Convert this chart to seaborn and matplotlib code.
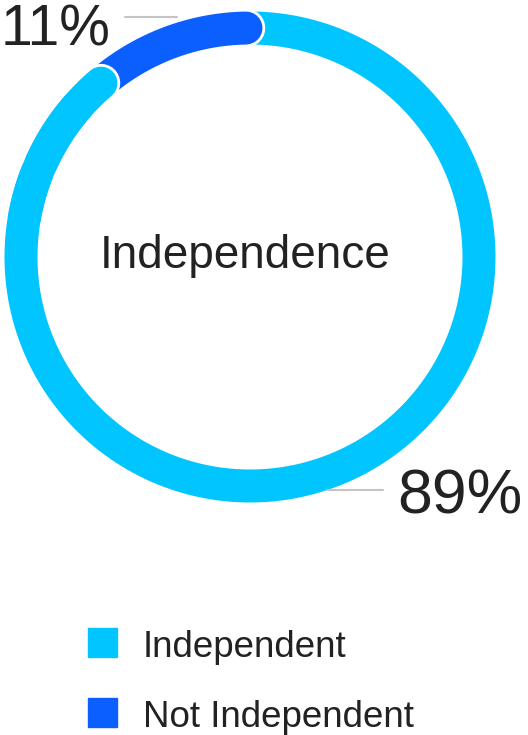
import numpy as np
import pandas as pd
import seaborn as sns
import matplotlib.pyplot as plt
import matplotlib.patheffects as pe
from matplotlib.patches import Rectangle

# chart data
labels = ["Independent", "Not Independent"]
values = [89, 11]
colors = ["#00C5FF", "#0B5FFF"]
title = "Independence"

sns.set_theme(style="white")
plt.rcParams["font.family"] = ["Liberation Sans", "DejaVu Sans"]

fig = plt.figure(figsize=(5.28, 7.35), dpi=100)
ax = fig.add_axes([0, 0, 1, 1])
ax.set_xlim(0, 528)
ax.set_ylim(735, 0)
ax.axis("off")

cx, cy, r = 250, 257, 229
lw = 33 * 0.72
outline = [pe.Stroke(linewidth=lw + 4, foreground="white"), pe.Normal()]


def arc(t0, t1):
    t = np.radians(np.linspace(t0, t1, 200))
    return pd.DataFrame({"x": cx + r * np.cos(t), "y": cy - r * np.sin(t)})


def draw(t0, t1, color, cap="round", fx=None):
    d = arc(t0, t1)
    sns.lineplot(data=d, x="x", y="y", sort=False, estimator=None, ax=ax,
                 color=color, linewidth=lw, solid_capstyle=cap,
                 path_effects=fx)


# angles from values, small slice starts near 12 o'clock going counter-clockwise
start = 91
blue_end = start + 360 * values[1] / sum(values)

draw(blue_end, start + 360, colors[0])
draw(start, blue_end, colors[1], fx=outline)
draw(blue_end, blue_end + 25, colors[0], fx=outline)
draw(blue_end + 8, blue_end + 40, colors[0], cap="butt")

ax.text(245, 268, title, ha="center", va="baseline", fontsize=33, color="#222222")

# value labels with leader lines
ax.plot([125, 177], [17, 17], color="#C4C4C4", lw=1.5)
ax.text(1, 45, f"{values[1]}%", ha="left", va="baseline", fontsize=41, color="#222222")
ax.plot([327, 383], [490, 490], color="#C4C4C4", lw=1.5)
ax.text(397, 513, f"{values[0]}%", ha="left", va="baseline", fontsize=45, color="#222222")

# legend
for i, (lab, col) in enumerate(zip(labels, colors)):
    y0 = 628 + i * 70
    ax.add_patch(Rectangle((88, y0), 29, 29, color=col))
    ax.text(143, y0 + 29, lab, ha="left", va="baseline", fontsize=26.5, color="#222222")

fig.savefig("out.png", dpi=100)
